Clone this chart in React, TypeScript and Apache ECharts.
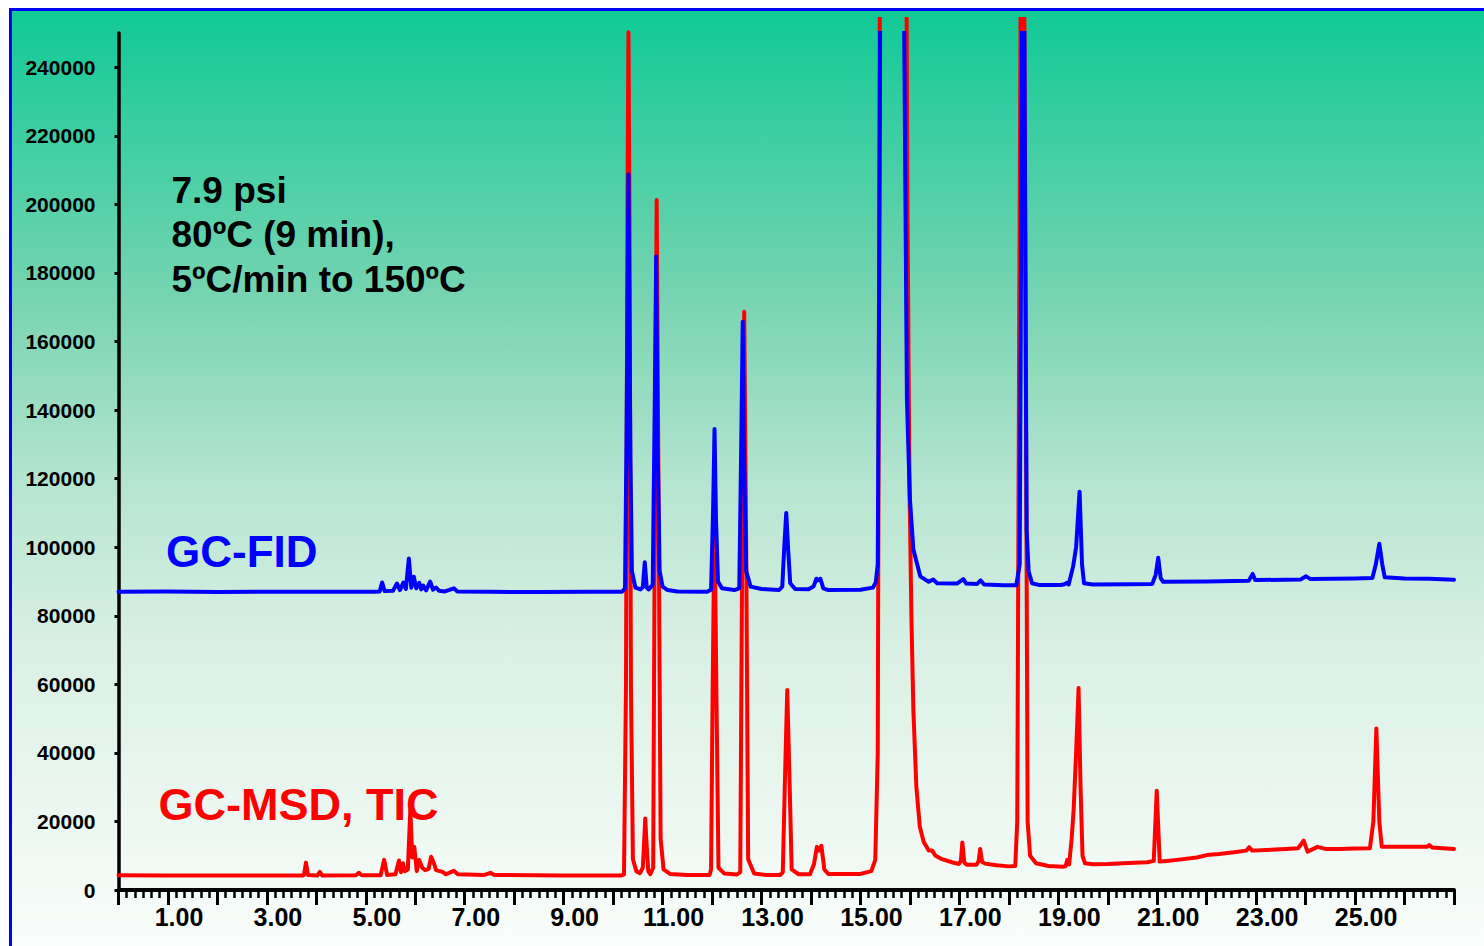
import React, { useEffect, useRef } from "react";
import * as echarts from "echarts";

// Retention time (min) vs. abundance, GC-FID trace (blue)
const fidTrace: [number, number][] = [
  [0.0, 87000], [1.0, 87100], [2.0, 86900], [3.0, 87000], [4.0, 87000], [5.2, 87000],
  [5.28, 87100], [5.33, 89700], [5.38, 87200],
  [5.55, 87300], [5.63, 89400], [5.69, 87500], [5.76, 89700], [5.81, 87800], [5.87, 96700], [5.92, 88200],
  [5.97, 91400], [6.02, 88000], [6.08, 89600], [6.12, 87700], [6.16, 88800], [6.22, 87400], [6.3, 90000],
  [6.36, 87600], [6.42, 88200], [6.48, 87300], [6.6, 87100], [6.78, 88000], [6.85, 87100],
  [7.5, 87000], [8.5, 86900], [9.5, 87000], [10.18, 87000],
  [10.24, 88000], [10.27, 130000], [10.31, 208800], [10.35, 125000], [10.38, 93000], [10.45, 88200], [10.55, 87700],
  [10.6, 88300], [10.64, 95600], [10.68, 88200], [10.72, 87700],
  [10.8, 89000], [10.84, 140000], [10.87, 184800], [10.9, 130000], [10.94, 93000], [11.0, 88500], [11.1, 87500],
  [11.3, 87100], [11.9, 87000],
  [11.98, 87600], [12.02, 110000], [12.05, 134500], [12.08, 108000], [12.12, 90000], [12.2, 88000], [12.45, 87500],
  [12.55, 88000], [12.59, 130000], [12.62, 165800], [12.65, 125000], [12.69, 93000], [12.78, 88500], [13.0, 87800],
  [13.35, 87500],
  [13.42, 88500], [13.46, 100000], [13.5, 110000], [13.54, 99000], [13.58, 89500], [13.68, 87800], [13.95, 87700],
  [14.05, 88500], [14.11, 90800], [14.14, 90300], [14.19, 90800], [14.25, 88000], [14.35, 87500], [15.0, 87600],
  [15.25, 88200], [15.31, 89700],
  [15.35, 95000], [15.38, 180000], [15.41, 300000], [15.86, 300000], [15.89, 240000], [15.94, 143000],
  [16.0, 114000], [16.07, 99300], [16.21, 91500], [16.38, 89900], [16.47, 90600], [16.55, 89500],
  [16.95, 89400], [17.08, 90700], [17.14, 89400], [17.36, 89300], [17.43, 90300], [17.5, 89100], [17.9, 88900],
  [18.15, 88900],
  [18.22, 95000], [18.26, 230000], [18.28, 300000], [18.3, 300000], [18.32, 230000], [18.36, 105000],
  [18.4, 93000], [18.47, 89500], [18.6, 89000], [19.05, 89000],
  [19.13, 89200], [19.17, 89600], [19.21, 89100], [19.3, 94400], [19.36, 100000], [19.43, 116200], [19.48, 95000],
  [19.52, 89500], [19.7, 89100], [20.4, 89200], [20.9, 89300],
  [20.97, 92000], [21.02, 96900], [21.07, 91000], [21.12, 89900], [22.0, 90000], [22.85, 90200], [22.93, 92200],
  [22.98, 90400], [23.9, 90600], [24.01, 91500], [24.1, 90700], [25.0, 90900], [25.35, 91000],
  [25.42, 95000], [25.49, 101000], [25.55, 95000], [25.6, 91200], [26.0, 90900], [26.5, 90800], [27.0, 90500],
];

// Retention time (min) vs. abundance, GC-MSD total ion current (red)
const msdTrace: [number, number][] = [
  [0.0, 4300], [1.0, 4200], [2.0, 4200], [3.0, 4200], [3.72, 4200], [3.75, 4400], [3.79, 8000], [3.83, 4400],
  [4.02, 4200], [4.07, 5300], [4.12, 4200], [4.8, 4300], [4.86, 5000], [4.92, 4300],
  [5.3, 4300], [5.37, 8800], [5.43, 4400], [5.6, 4600], [5.67, 8600], [5.71, 5200], [5.75, 7800], [5.79, 5500],
  [5.85, 6000], [5.9, 23400], [5.94, 9500], [5.98, 12600], [6.03, 5500], [6.08, 8800], [6.14, 6500], [6.2, 5800],
  [6.27, 6200], [6.32, 9700], [6.37, 8100], [6.42, 5800], [6.55, 5300], [6.62, 4600], [6.78, 5600], [6.86, 4600],
  [7.4, 4400], [7.52, 5000], [7.6, 4400], [8.4, 4300], [9.0, 4200], [10.15, 4200],
  [10.22, 4500], [10.26, 60000], [10.29, 200000], [10.31, 250500], [10.33, 200000], [10.36, 60000], [10.4, 9000],
  [10.47, 5500], [10.54, 4900], [10.6, 6500], [10.63, 15000], [10.65, 20900], [10.67, 15000], [10.71, 5500],
  [10.75, 4600], [10.81, 6500], [10.84, 100000], [10.88, 201500], [10.92, 110000], [10.96, 15000], [11.02, 6000],
  [11.15, 4700], [11.5, 4400], [11.95, 4400],
  [11.98, 6000], [12.01, 55000], [12.05, 110000], [12.09, 55000], [12.13, 6500], [12.25, 4800], [12.5, 4500],
  [12.57, 5200], [12.61, 100000], [12.65, 168900], [12.69, 100000], [12.73, 9000], [12.85, 4800], [13.1, 4400],
  [13.38, 4400],
  [13.43, 5200], [13.47, 30000], [13.52, 58400], [13.57, 30000], [13.61, 6000], [13.75, 4600], [13.98, 4600],
  [14.06, 7500], [14.12, 12600], [14.17, 11500], [14.21, 12900], [14.27, 6000], [14.35, 4700], [15.0, 4700],
  [15.22, 5500], [15.3, 8800],
  [15.35, 40000], [15.38, 200000], [15.4, 300000], [15.92, 300000], [15.95, 200000], [15.99, 120000],
  [16.03, 80000], [16.07, 52600], [16.13, 30200], [16.2, 18500], [16.28, 14000], [16.38, 11500], [16.45, 11500],
  [16.52, 10000], [16.65, 9000], [16.85, 8100], [16.99, 7600],
  [17.03, 8500], [17.06, 13900], [17.1, 8000], [17.15, 7400], [17.35, 7400], [17.39, 8500], [17.42, 12000],
  [17.46, 8200], [17.52, 7700], [17.75, 7200], [18.0, 6900], [18.13, 7000],
  [18.17, 20000], [18.22, 200000], [18.25, 300000], [18.3, 300000], [18.33, 200000], [18.38, 20000],
  [18.43, 10000], [18.55, 7800], [18.8, 7000], [19.1, 6800], [19.15, 7000], [19.18, 8800], [19.22, 7500],
  [19.27, 15000], [19.31, 23400], [19.36, 40000], [19.41, 59000], [19.45, 30000], [19.49, 10000], [19.54, 7800],
  [19.7, 7500], [20.0, 7600], [20.3, 7800], [20.8, 8100], [20.93, 8500], [20.99, 29000], [21.05, 8300],
  [21.2, 8500], [21.4, 8800], [21.8, 9500], [22.0, 10200], [22.25, 10500], [22.55, 11000], [22.8, 11500],
  [22.86, 12500], [22.92, 11500], [23.2, 11700], [23.6, 12000], [23.85, 12200], [23.96, 14400], [24.04, 11200],
  [24.24, 12600], [24.4, 12000], [24.7, 12000], [25.0, 12100], [25.3, 12200],
  [25.37, 20000], [25.43, 47200], [25.49, 20000], [25.54, 12600], [26.0, 12600], [26.45, 12600], [26.5, 13100],
  [26.56, 12400], [27.0, 12000],
];

const conditionLines = ["7.9 psi", "80ºC (9 min),", "5ºC/min to 150ºC"];
const fidLabel = "GC-FID";
const msdLabel = "GC-MSD, TIC";

const FONT = "'Liberation Sans', Arial, Helvetica, sans-serif";

export default function App() {
  const ref = useRef<HTMLDivElement>(null);

  useEffect(() => {
    if (!ref.current) return;
    const chart = echarts.init(ref.current, undefined, { renderer: "svg" });

    const gradient = new echarts.graphic.LinearGradient(0, 0, 0, 1, [
      { offset: 0, color: "#10c996" },
      { offset: 0.31, color: "#78d4b2" },
      { offset: 0.5, color: "#b4e4d0" },
      { offset: 0.68, color: "#daf0e5" },
      { offset: 1, color: "#fafdfb" },
    ]);

    const lineY = [190, 234, 279.5];

    chart.setOption({
      animation: false,
      backgroundColor: "#ffffff",
      grid: [
        { left: 118.5, right: 30, top: 33, bottom: 56 },
        { left: 118.5, right: 30, top: 19, bottom: 56 },
      ],
      xAxis: [
        {
          type: "value",
          gridIndex: 0,
          min: 0,
          max: 27,
          interval: 1,
          axisLine: { show: true, onZero: false, lineStyle: { color: "#000", width: 4 } },
          axisTick: { show: true, length: 15, lineStyle: { color: "#000", width: 3 } },
          minorTick: { show: true, splitNumber: 6, length: 8, lineStyle: { color: "#000", width: 2.5 } },
          splitLine: { show: false },
          minorSplitLine: { show: false },
          axisLabel: {
            formatter: (v: number) => {
              const r = Math.round(v);
              if (Math.abs(v - r) > 1e-6) return "";
              return r % 2 === 1 ? r.toFixed(2) : "";
            },
            fontSize: 25,
            fontWeight: "bold",
            color: "#000",
            fontFamily: FONT,
            margin: 14,
            padding: [0, 0, 0, 22],
            showMaxLabel: false,
            showMinLabel: false,
          },
        },
        { type: "value", gridIndex: 1, min: 0, max: 27, show: false },
      ],
      yAxis: [
        {
          type: "value",
          gridIndex: 0,
          min: 0,
          max: 250000,
          interval: 20000,
          axisLine: { show: true, onZero: false, lineStyle: { color: "#000", width: 3.5 } },
          axisTick: { show: true, length: 4, lineStyle: { color: "#000", width: 3 } },
          splitLine: { show: false },
          axisLabel: {
            formatter: (v: number) => (v > 240000 ? "" : String(v)),
            fontSize: 21,
            fontWeight: "bold",
            color: "#000",
            fontFamily: FONT,
            margin: 23,
            showMaxLabel: false,
          },
        },
        { type: "value", gridIndex: 1, min: 0, max: 254380, show: false },
      ],
      series: [
        {
          type: "line",
          name: msdLabel,
          xAxisIndex: 1,
          yAxisIndex: 1,
          data: msdTrace,
          symbol: "none",
          clip: true,
          z: 2,
          lineStyle: { color: "#ff0000", width: 4, join: "round", cap: "round" },
        },
        {
          type: "line",
          name: fidLabel,
          xAxisIndex: 0,
          yAxisIndex: 0,
          data: fidTrace,
          symbol: "none",
          clip: true,
          z: 3,
          lineStyle: { color: "#0000ff", width: 4, join: "round", cap: "round" },
        },
      ],
      graphic: [
        {
          type: "rect",
          z: -10,
          silent: true,
          shape: { x: 11, y: 10, width: 1480, height: 940 },
          style: { fill: gradient },
        },
        {
          type: "rect",
          z: -9,
          silent: true,
          shape: { x: 10.5, y: 9.5, width: 1480, height: 940 },
          style: { fill: "none", stroke: "#0000ff", lineWidth: 3 },
        },
        ...conditionLines.map((t, i) => ({
          type: "text",
          z: 50,
          x: 171.5,
          y: lineY[i],
          style: {
            text: t,
            fontSize: 37,
            fontWeight: "bold",
            fontFamily: FONT,
            fill: "#000",
            align: "left",
            verticalAlign: "middle",
          },
        })),
        {
          type: "text",
          z: 50,
          x: 166,
          y: 551.5,
          style: {
            text: fidLabel,
            fontSize: 44,
            fontWeight: "bold",
            fontFamily: FONT,
            fill: "#0000ff",
            align: "left",
            verticalAlign: "middle",
          },
        },
        {
          type: "text",
          z: 50,
          x: 158.5,
          y: 804.5,
          style: {
            text: msdLabel,
            fontSize: 45,
            fontWeight: "bold",
            fontFamily: FONT,
            fill: "#ff0000",
            align: "left",
            verticalAlign: "middle",
          },
        },
      ],
    });

    return () => chart.dispose();
  }, []);

  return (
    <div
      ref={ref}
      style={{ position: "absolute", left: 0, top: 0, width: 1484, height: 946 }}
    />
  );
}
